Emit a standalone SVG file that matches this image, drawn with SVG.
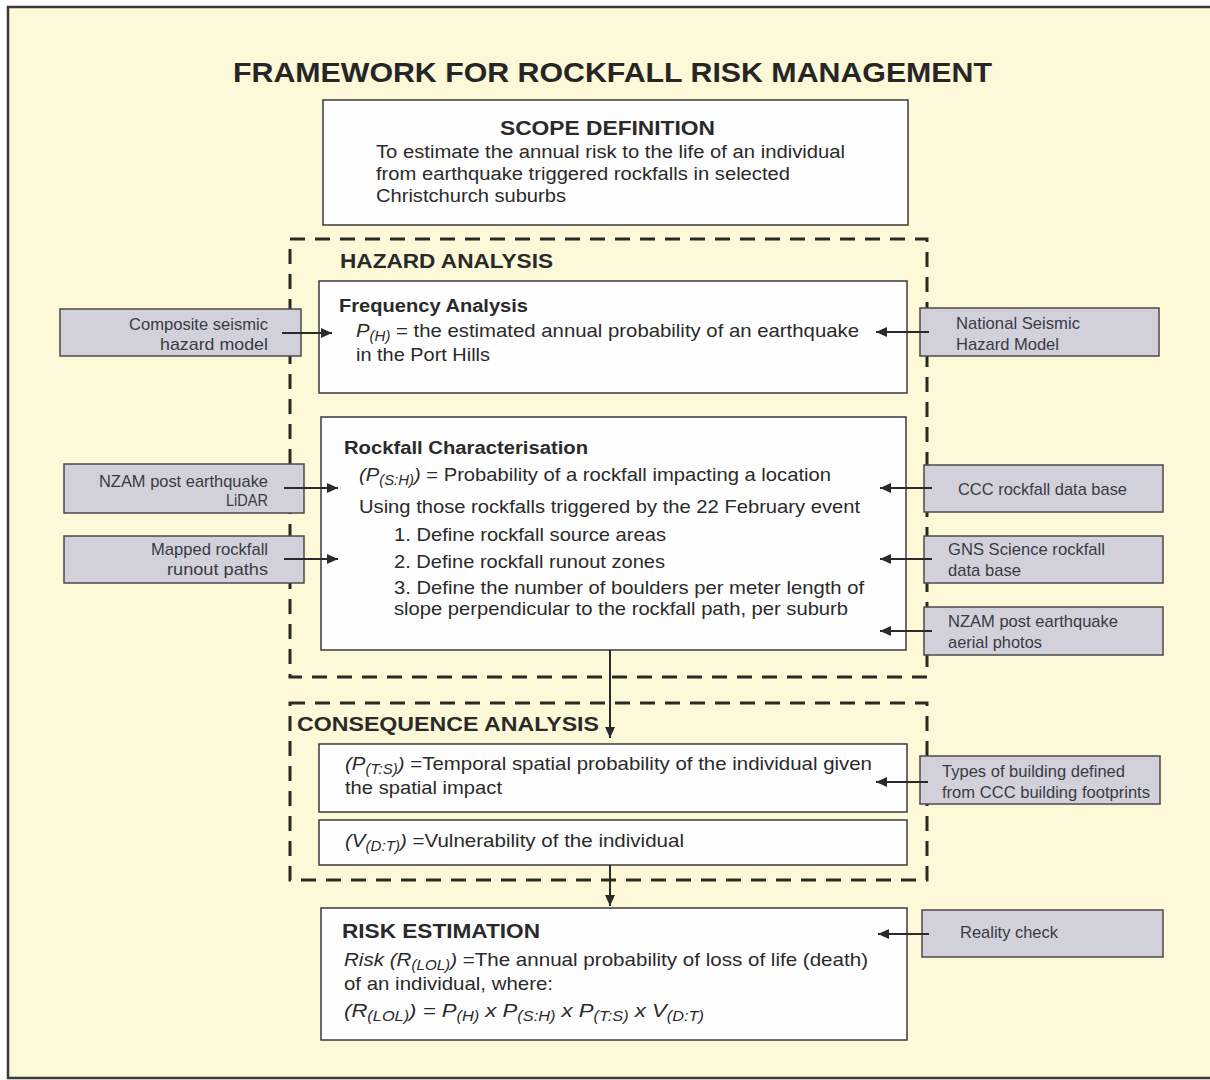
<svg xmlns="http://www.w3.org/2000/svg" width="1210" height="1080" viewBox="0 0 1210 1080">
<style>
text{font-family:"Liberation Sans",Arial,sans-serif;fill:#2a2a2a}
.title{font-size:28px;font-weight:bold;fill:#262626}
.head{font-size:21px;font-weight:bold}
.sub{font-size:18px;font-weight:bold}
.body{font-size:19px}
.scope{font-size:18px}
.gray text{font-size:17px;fill:#3a3a44}
.gray rect{fill:#d2d1db;stroke:#4a4a4a;stroke-width:1.5}
.wbox{fill:#fefefe;stroke:#3a3a3a;stroke-width:1.5}
.dash{fill:none;stroke:#2a2a22;stroke-width:3;stroke-dasharray:15 10}
.it{font-style:italic}
.conn line{stroke:#2a2a2a;stroke-width:2}
</style>
<defs>
<marker id="ah" markerUnits="userSpaceOnUse" markerWidth="11" markerHeight="10" refX="11" refY="5" orient="auto">
<path d="M0,0 L11,5 L0,10 z" fill="#2a2a2a"/>
</marker>
</defs>
<rect x="0" y="0" width="1210" height="1080" fill="#ffffff"/>
<rect x="8" y="7" width="1215" height="1071" fill="#fcf8d8" stroke="#3a3a3a" stroke-width="2.5"/>

<text class="title" x="233" y="82" textLength="759" lengthAdjust="spacingAndGlyphs">FRAMEWORK FOR ROCKFALL RISK MANAGEMENT</text>

<g id="scope">
<rect class="wbox" x="323" y="100" width="585" height="125"/>
<text class="head" x="500" y="135" textLength="215" lengthAdjust="spacingAndGlyphs">SCOPE DEFINITION</text>
<text class="scope" x="376" y="158" textLength="469" lengthAdjust="spacingAndGlyphs">To estimate the annual risk to the life of an individual</text>
<text class="scope" x="376" y="180" textLength="414" lengthAdjust="spacingAndGlyphs">from earthquake triggered rockfalls in selected</text>
<text class="scope" x="376" y="202" textLength="190" lengthAdjust="spacingAndGlyphs">Christchurch suburbs</text>
</g>

<g id="hazard-analysis">
<rect class="dash" x="290" y="239" width="637" height="438"/>
<text class="head" x="340" y="268" textLength="213" lengthAdjust="spacingAndGlyphs">HAZARD ANALYSIS</text>
</g>

<g id="consequence-analysis">
<rect class="dash" x="290" y="703" width="637" height="177"/>
<text class="head" x="297" y="731" font-size="20" textLength="302" lengthAdjust="spacingAndGlyphs">CONSEQUENCE  ANALYSIS</text>
</g>

<g id="frequency">
<rect class="wbox" x="319" y="281" width="588" height="112"/>
<text class="sub" x="339" y="312" textLength="189" lengthAdjust="spacingAndGlyphs">Frequency Analysis</text>
<text class="body" x="356" y="337" textLength="503" lengthAdjust="spacingAndGlyphs"><tspan class="it">P</tspan><tspan class="it" font-size="14" dy="4">(H)</tspan><tspan dy="-4"> = the estimated annual probability of an earthquake</tspan></text>
<text class="body" x="356" y="361" textLength="134" lengthAdjust="spacingAndGlyphs">in the Port Hills</text>
</g>

<g id="rockfall">
<rect class="wbox" x="321" y="417" width="585" height="233"/>
<text class="sub" x="344" y="454" textLength="244" lengthAdjust="spacingAndGlyphs">Rockfall Characterisation</text>
<text class="body" x="359" y="481" textLength="472" lengthAdjust="spacingAndGlyphs"><tspan class="it">(P</tspan><tspan class="it" font-size="14" dy="4">(S:H)</tspan><tspan class="it" dy="-4">)</tspan> = Probability of a rockfall impacting a location</text>
<text class="body" x="359" y="513" textLength="501" lengthAdjust="spacingAndGlyphs">Using those rockfalls triggered by the 22 February event</text>
<text class="body" x="394" y="541" textLength="272" lengthAdjust="spacingAndGlyphs">1. Define rockfall source areas</text>
<text class="body" x="394" y="568" textLength="271" lengthAdjust="spacingAndGlyphs">2. Define rockfall runout zones</text>
<text class="body" x="394" y="594" textLength="470" lengthAdjust="spacingAndGlyphs">3. Define the number of boulders per meter length of</text>
<text class="body" x="394" y="615" textLength="454" lengthAdjust="spacingAndGlyphs">slope perpendicular to the rockfall path, per suburb</text>
</g>

<g id="temporal">
<rect class="wbox" x="319" y="744" width="588" height="68"/>
<text class="body" x="345" y="770" textLength="527" lengthAdjust="spacingAndGlyphs"><tspan class="it">(P</tspan><tspan class="it" font-size="14" dy="4">(T:S)</tspan><tspan class="it" dy="-4">)</tspan> =Temporal spatial probability of the individual given</text>
<text class="body" x="345" y="794" textLength="157" lengthAdjust="spacingAndGlyphs">the spatial impact</text>
</g>

<g id="vulnerability">
<rect class="wbox" x="319" y="820" width="588" height="45"/>
<text class="body" x="345" y="847" textLength="339" lengthAdjust="spacingAndGlyphs"><tspan class="it">(V</tspan><tspan class="it" font-size="14" dy="4">(D:T)</tspan><tspan class="it" dy="-4">)</tspan> =Vulnerability of the individual</text>
</g>

<g id="risk">
<rect class="wbox" x="321" y="908" width="586" height="132"/>
<text class="head" x="342" y="938" textLength="198" lengthAdjust="spacingAndGlyphs">RISK ESTIMATION</text>
<text class="body" x="344" y="966" textLength="524" lengthAdjust="spacingAndGlyphs"><tspan class="it">Risk (R</tspan><tspan class="it" font-size="14" dy="4">(LOL)</tspan><tspan class="it" dy="-4">)</tspan> =The annual probability of loss of life (death)</text>
<text class="body" x="344" y="990" textLength="209" lengthAdjust="spacingAndGlyphs">of an individual, where:</text>
<text class="body it" x="344" y="1017" textLength="360" lengthAdjust="spacingAndGlyphs">(R<tspan font-size="14" dy="4">(LOL)</tspan><tspan dy="-4">) = P</tspan><tspan font-size="14" dy="4">(H)</tspan><tspan dy="-4"> x P</tspan><tspan font-size="14" dy="4">(S:H)</tspan><tspan dy="-4"> x P</tspan><tspan font-size="14" dy="4">(T:S)</tspan><tspan dy="-4"> x V</tspan><tspan font-size="14" dy="4">(D:T)</tspan></text>
</g>

<g id="composite-seismic" class="gray">
<rect x="60" y="309" width="241" height="47"/>
<text x="268" y="330" text-anchor="end" textLength="139" lengthAdjust="spacingAndGlyphs">Composite seismic</text>
<text x="268" y="350" text-anchor="end" textLength="108" lengthAdjust="spacingAndGlyphs">hazard model</text>
</g>

<g id="national-seismic" class="gray">
<rect x="920" y="308" width="239" height="48"/>
<text x="956" y="329" textLength="124" lengthAdjust="spacingAndGlyphs">National Seismic</text>
<text x="956" y="350" textLength="103" lengthAdjust="spacingAndGlyphs">Hazard Model</text>
</g>

<g id="nzam-lidar" class="gray">
<rect x="64" y="464" width="240" height="49"/>
<text x="268" y="487" text-anchor="end" textLength="169" lengthAdjust="spacingAndGlyphs">NZAM post earthquake</text>
<text x="268" y="506" text-anchor="end" textLength="42" lengthAdjust="spacingAndGlyphs">LiDAR</text>
</g>

<g id="mapped-runout" class="gray">
<rect x="64" y="536" width="240" height="47"/>
<text x="268" y="555" text-anchor="end" textLength="117" lengthAdjust="spacingAndGlyphs">Mapped rockfall</text>
<text x="268" y="575" text-anchor="end" textLength="101" lengthAdjust="spacingAndGlyphs">runout paths</text>
</g>

<g id="ccc-database" class="gray">
<rect x="924" y="465" width="239" height="47"/>
<text x="958" y="495" textLength="169" lengthAdjust="spacingAndGlyphs">CCC rockfall data base</text>
</g>

<g id="gns-database" class="gray">
<rect x="924" y="536" width="239" height="47"/>
<text x="948" y="555" textLength="157" lengthAdjust="spacingAndGlyphs">GNS Science rockfall</text>
<text x="948" y="576" textLength="73" lengthAdjust="spacingAndGlyphs">data base</text>
</g>

<g id="nzam-aerial" class="gray">
<rect x="924" y="607" width="239" height="48"/>
<text x="948" y="627" textLength="170" lengthAdjust="spacingAndGlyphs">NZAM post earthquake</text>
<text x="948" y="648" textLength="94" lengthAdjust="spacingAndGlyphs">aerial photos</text>
</g>

<g id="building-types" class="gray">
<rect x="920" y="756" width="240" height="48"/>
<text x="942" y="777" textLength="183" lengthAdjust="spacingAndGlyphs">Types of building defined</text>
<text x="942" y="798" textLength="208" lengthAdjust="spacingAndGlyphs">from CCC building footprints</text>
</g>

<g id="reality-check" class="gray">
<rect x="922" y="910" width="241" height="47"/>
<text x="960" y="938" textLength="98" lengthAdjust="spacingAndGlyphs">Reality check</text>
</g>

<g id="connectors" class="conn">
<line x1="282" y1="333" x2="332" y2="333" marker-end="url(#ah)"/>
<line x1="929" y1="332" x2="876" y2="332" marker-end="url(#ah)"/>
<line x1="284" y1="488" x2="338" y2="488" marker-end="url(#ah)"/>
<line x1="284" y1="559" x2="338" y2="559" marker-end="url(#ah)"/>
<line x1="932" y1="488" x2="880" y2="488" marker-end="url(#ah)"/>
<line x1="932" y1="559" x2="880" y2="559" marker-end="url(#ah)"/>
<line x1="932" y1="631" x2="880" y2="631" marker-end="url(#ah)"/>
<line x1="928" y1="782" x2="876" y2="782" marker-end="url(#ah)"/>
<line x1="929" y1="934" x2="878" y2="934" marker-end="url(#ah)"/>
<line x1="610" y1="650" x2="610" y2="738" marker-end="url(#ah)"/>
<line x1="610" y1="865" x2="610" y2="906" marker-end="url(#ah)"/>
</g>
</svg>
